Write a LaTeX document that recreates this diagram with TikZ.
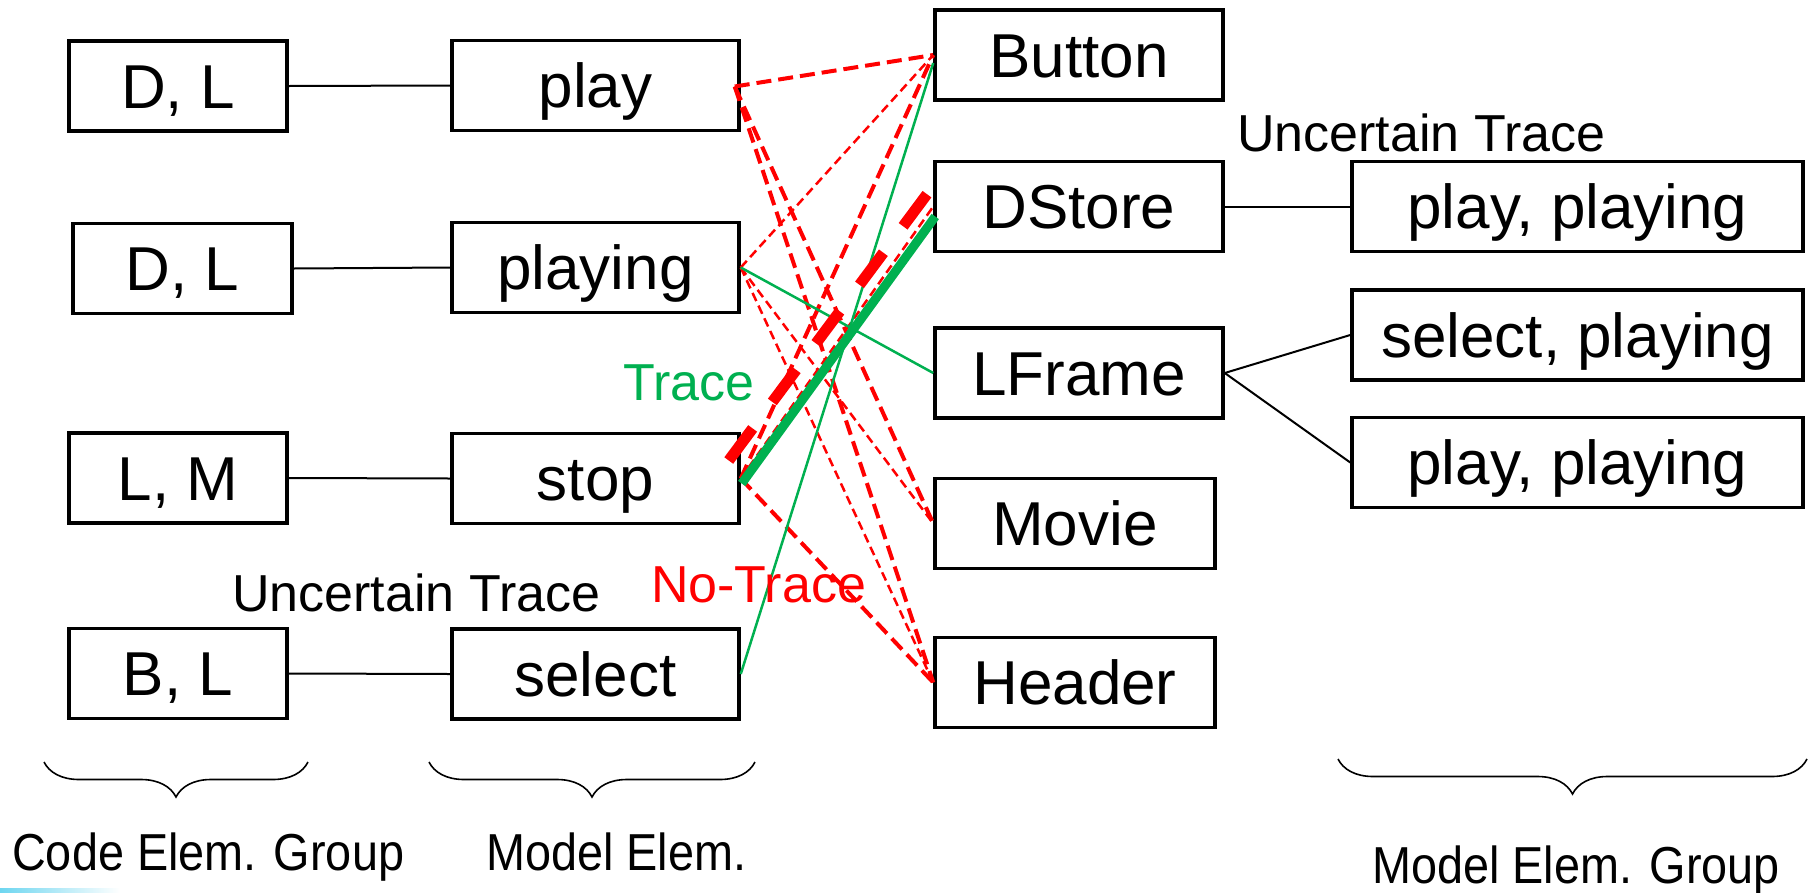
\documentclass[tikz,border=0pt]{standalone}
\usepackage{fontspec}
\setmainfont{Liberation Sans}
\newfontfamily\narrowsans[FakeStretch=0.9]{Liberation Sans}
\usetikzlibrary{decorations.pathreplacing}
\definecolor{trgreen}{RGB}{0,176,80}
\definecolor{trred}{RGB}{255,0,0}
\definecolor{barcyan}{RGB}{110,214,240}

\begin{document}
\begin{tikzpicture}[x=1pt,y=-1pt,
  elem/.style={draw,line width=3.5pt,inner sep=0pt,minimum height=90pt,
    text height=44pt,text depth=0pt,font=\fontsize{62}{70}\selectfont},
  codegrp/.style={elem,minimum width=218pt},
  modelel/.style={elem,minimum width=287pt},
  groupbox/.style={elem,minimum width=451pt},
  link/.style={line width=2pt},
  lbl/.style={inner sep=0pt,anchor=base west,font=\fontsize{52}{60}\selectfont},
  caption/.style={inner sep=0pt,anchor=base west,font=\narrowsans\fontsize{52}{60}\selectfont},
  notrace/.style={trred,line width=4pt,dash pattern=on 15pt off 7pt},
  notracethin/.style={trred,line width=2.5pt,dash pattern=on 9pt off 5pt},
  notracebold/.style={trred,line width=11pt,dash pattern=on 40pt off 33pt},
  tracethin/.style={trgreen,line width=2.5pt},
  tracebold/.style={trgreen,line width=9pt},
  groupbrace/.style={decorate,decoration={brace,mirror,amplitude=35pt},line width=1.6pt},
]
\useasboundingbox (0,0) rectangle (1816,892);

% code element groups and model elements
\node[codegrp] (cg1) at (178,86) {D, L};
\node[modelel] (play) at (595.5,85.5) {play};
\node[codegrp,minimum width=219pt] (cg2) at (182.5,268.5) {D, L};
\node[modelel] (playing) at (595.5,267.5) {playing};
\node[codegrp] (cg3) at (178,478) {L, M};
\node[modelel] (stop) at (595.5,478.5) {stop};
\node[codegrp] (cg4) at (178,673.5) {B, L};
\node[modelel] (select) at (595.5,674) {select};

% code elements on the right
\node[modelel,minimum width=288pt] (button) at (1079,55) {Button};
\node[modelel,minimum width=288pt] (dstore) at (1079,206.5) {DStore};
\node[modelel,minimum width=288pt] (lframe) at (1079,373) {LFrame};
\node[elem,minimum width=280pt] (movie) at (1075,523.5) {Movie};
\node[elem,minimum width=280pt] (header) at (1075,682.5) {Header};

% model element groups
\node[groupbox] (mg1) at (1577.5,206.5) {play, playing};
\node[groupbox] (mg2) at (1577.5,335) {select, playing};
\node[groupbox] (mg3) at (1577.5,462.5) {play, playing};

% group memberships
\draw[link] (cg1.east) -- (play.west);
\draw[link] (cg2.east) -- (playing.west);
\draw[link] (cg3.east) -- (stop.west);
\draw[link] (cg4.east) -- (select.west);
\draw[link] (dstore.east) -- (mg1.west);
\draw[link] (lframe.east) -- (mg2.west);
\draw[link] (lframe.east) -- (mg3.west);

% no-trace links
\coordinate (playout) at ([shift={(-6,1)}]play.east);
\draw[notrace] (playout) -- (button.west);
\draw[notrace] (playout) -- (movie.west);
\draw[notrace] (playout) -- (header.west);
\draw[notrace] (stop.east) -- (button.west);
\draw[notrace] (stop.east) -- (header.west);
\draw[notracethin] (playing.east) -- (button.west);
\draw[notracethin] (playing.east) -- (movie.west);
\draw[notracethin] (playing.east) -- (header.west);
\draw[notracethin] (stop.east) -- (dstore.west);

% trace links
\draw[tracethin] (select.east) -- ([shift={(0,8)}]button.west);
\draw[tracethin] (playing.east) -- (lframe.west);
\draw[tracebold] ([shift={(1,5)}]stop.east) -- ([shift={(2,10)}]dstore.west);
\draw[notracebold] ([shift={(-12,-18)}]stop.east) -- ([shift={(-5,-14)}]dstore.west);

% labels
\node[lbl,text=trgreen] (tlbl) at (623,400) {Trace};
\node[lbl,text=trred] (ntlbl) at (651,602) {No-Trace};
\node[lbl] (ulbl1) at (232,611) {Uncertain Trace};
\node[lbl] (ulbl2) at (1237,151) {Uncertain Trace};

% braces and captions
\draw[groupbrace] (44,762) -- (308,762);
\draw[groupbrace] (429,762) -- (755,762);
\draw[groupbrace] (1338,759) -- (1807,759);
\node[caption] (cap1) at (12,870) {Code Elem. Group};
\node[caption] (cap2) at (486,870) {Model Elem.};
\node[caption] (cap3) at (1372,883) {Model Elem. Group};

% corner accent bar
\shade[left color=barcyan,right color=white] (0,888) rectangle (120,892);
\end{tikzpicture}
\end{document}
